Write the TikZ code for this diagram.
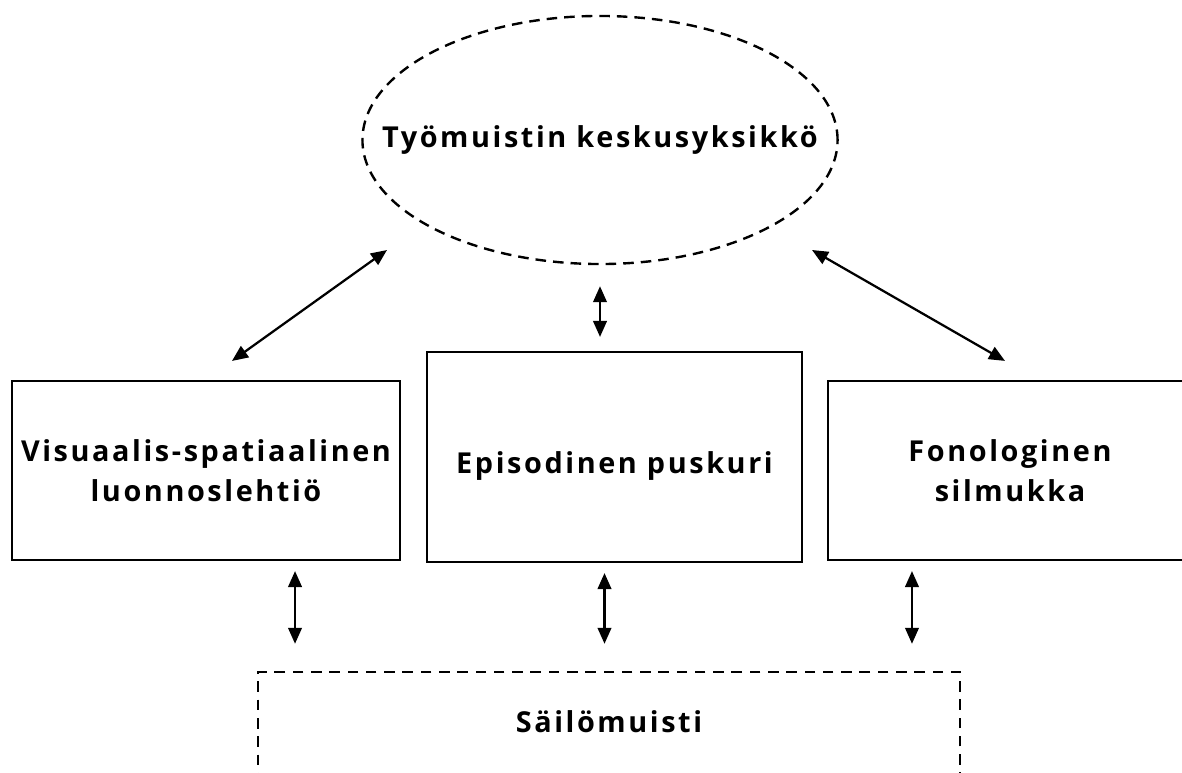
\documentclass[tikz,border=0pt]{standalone}
\usepackage{fontspec}
\setmainfont{Open Sans}[LetterSpace=9]
\usetikzlibrary{shapes,arrows.meta,positioning}

\begin{document}
\begin{tikzpicture}[
    x=0.025cm, y=-0.025cm,
    unit/.style={rectangle, draw=black, line width=1.5pt, align=center,
                 inner sep=0pt, font=\bfseries\fontsize{20.5}{28.5}\selectfont},
    exec/.style={ellipse, draw=black, line width=1.7pt, dash pattern=on 7.5pt off 5pt,
                 minimum width=11.875cm, minimum height=6.2cm, inner sep=0pt,
                 font=\bfseries\fontsize{20.5}{28.5}\selectfont},
    store/.style={rectangle, draw=black, line width=1.7pt, dash pattern=on 7.5pt off 5.5pt,
                  minimum width=17.55cm, minimum height=3.5cm, inner sep=0pt},
    link/.style={{Triangle[length=0.4cm,width=0.34cm]}-{Triangle[length=0.4cm,width=0.34cm]},
                 line width=1.6pt}
]
    \useasboundingbox (0,0) rectangle (1182,773);
    \clip (0,0) rectangle (1182,773);

    % Central executive on top
    \node[exec] (wm) at (600,140) {\makebox[0pt]{Työmuistin keskusyksikkö}};

    % Three slave systems in a row
    \node[unit, minimum width=9.7cm, minimum height=4.475cm] (vis) at (206,470.5)
        {Visuaalis-spatiaalinen\\luonnoslehtiö};
    \node[unit, minimum width=9.375cm, minimum height=5.25cm,
          text height=1.0cm, text depth=0.17cm] (epi) at (614.5,457)
        {Episodinen puskuri};
    \node[unit, minimum width=9.1cm, minimum height=4.475cm] (fon) at (1010,470.5)
        {Fonologinen\\silmukka};

    % Long-term memory below (runs off the page)
    \node[store] (ltm) at (609,742) {};
    \node[font=\bfseries\fontsize{20.5}{28.5}\selectfont] (ltmtext) at (609,722) {Säilömuisti};

    % Executive to slave systems
    \draw[link] ([shift={(26,-19)}]vis.north) -- ([shift={(-213,110)}]wm.center);
    \draw[link, shorten <=0.525cm, shorten >=0.35cm] (wm.south) -- (wm.south |- epi.north);
    \draw[link] ([shift={(212,110)}]wm.center) -- ([shift={(-5,-19)}]fon.north);

    % Slave systems to long-term memory
    \draw[link, shorten <=0.25cm, shorten >=0.675cm] ([xshift=2.225cm]vis.south) -- ([xshift=2.225cm]vis.south |- ltm.north);
    \draw[link, shorten <=0.25cm, shorten >=0.675cm] ([xshift=-0.25cm]epi.south) -- ([xshift=-0.25cm]epi.south |- ltm.north);
    \draw[link, shorten <=0.25cm, shorten >=0.675cm] ([xshift=-2.45cm]fon.south) -- ([xshift=-2.45cm]fon.south |- ltm.north);

\end{tikzpicture}
\end{document}
